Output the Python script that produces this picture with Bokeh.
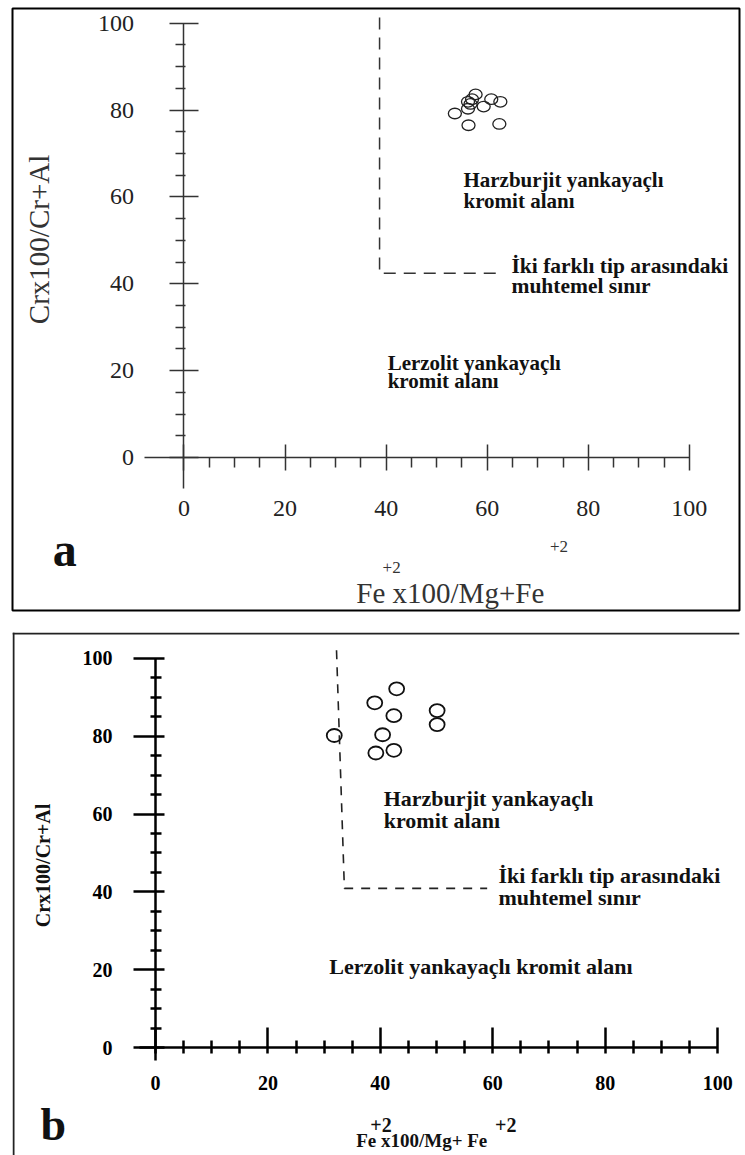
import numpy as np
from bokeh.plotting import figure
from bokeh.layouts import column
from bokeh.models import FixedTicker, Span, Range1d
from bokeh.core.properties import value
from bokeh.embed import file_html
from bokeh.resources import INLINE

SERIF = "Liberation Serif"

# ---------------- data ----------------
major_ticks = [0, 20, 40, 60, 80, 100]
minor_ticks = [5, 10, 15, 25, 30, 35, 45, 50, 55, 65, 70, 75, 85, 90, 95]

# panel a : Fe#  (Fe+2 x100 / Mg+Fe+2)  and Cr# (Cr x100 / Cr+Al)
a_fe = [53.6, 56.3, 62.4, 56.2, 59.3, 56.2, 57.0, 57.7, 60.8, 62.6, 56.7]
a_cr = [79.2, 76.5, 76.8, 80.3, 80.8, 81.9, 82.5, 83.6, 82.5, 81.9, 81.4]
a_bound_fe = [38.7, 38.7, 61.8]
a_bound_cr = [101.3, 42.4, 42.4]

# panel b
b_fe = [42.9, 39.0, 42.4, 50.1, 50.1, 40.4, 39.2, 42.4, 31.8]
b_cr = [92.2, 88.6, 85.3, 86.6, 83.0, 80.4, 75.7, 76.4, 80.2]
b_bound_fe = [32.2, 33.6, 59.0]
b_bound_cr = [102.1, 40.9, 40.9]

y_title = "Crx100/Cr+Al"
x_title_a = "Fe x100/Mg+Fe"
x_title_b = "Fe x100/Mg+ Fe"
sup = "+2"
harz = ["Harzburjit yankayaçlı", "kromit alanı"]
bound = ["İki farklı tip arasındaki", "muhtemel sınır"]
lerz_a = ["Lerzolit yankayaçlı", "kromit alanı"]
lerz_b = "Lerzolit yankayaçlı kromit alanı"


def style_axis(ax, bounds, tin, tout, min_in, min_out, lw, color,
               fsize, fstyle, lcolor, standoff):
    ax.fixed_location = 0
    ax.ticker = FixedTicker(ticks=major_ticks, minor_ticks=minor_ticks)
    ax.bounds = bounds
    ax.axis_line_width = lw
    ax.axis_line_color = color
    ax.major_tick_line_width = lw
    ax.major_tick_line_color = color
    ax.minor_tick_line_width = lw
    ax.minor_tick_line_color = color
    ax.major_tick_in = tin
    ax.major_tick_out = tout
    ax.minor_tick_in = min_in
    ax.minor_tick_out = min_out
    ax.major_label_text_font = SERIF
    ax.major_label_text_font_size = fsize
    ax.major_label_text_font_style = fstyle
    ax.major_label_text_color = lcolor
    ax.major_label_standoff = standoff


def txt(p, x, y, t, size, style="bold", color="#111", align="left",
        baseline="middle", angle=0.0):
    p.text(x=[x], y=[y], text=[t], text_font=value(SERIF),
           text_font_size=size, text_font_style=style, text_color=color,
           text_align=align, text_baseline=baseline, angle=angle)


# ---------------- panel a ----------------
pa = figure(width=741, height=620,
            x_range=Range1d(-33.93, 109.92), y_range=Range1d(-35.23, 103.38),
            output_backend="svg", toolbar_location=None,
            min_border_left=12, min_border_right=2,
            min_border_top=8, min_border_bottom=10)
pa.grid.visible = False
pa.outline_line_color = "black"
pa.outline_line_width = 2
pa.background_fill_color = "white"
pa.border_fill_color = "white"

style_axis(pa.xaxis[0], (-7.9, 100), 13, 13, 0, 10, 1.5, "#333",
           "24px", "normal", "#222", 31)
style_axis(pa.yaxis[0], (-7.1, 100), 15, 14, 2, 8, 1.5, "#333",
           "24px", "normal", "#222", 36)

pa.line(a_bound_fe, a_bound_cr, line_dash="12 8", line_width=1.5,
        line_color="#333")
pa.ellipse(x=a_fe, y=a_cr, width=13, height=10.5, width_units="screen",
           height_units="screen", fill_color=None, line_color="#222",
           line_width=1.3)

txt(pa, 55.3, 64.0, harz[0], "21px")
txt(pa, 55.3, 59.0, harz[1], "21px")
txt(pa, 64.8, 44.0, bound[0], "21.5px")
txt(pa, 64.8, 39.6, bound[1], "21.5px")
txt(pa, 40.3, 21.8, lerz_a[0], "21px")
txt(pa, 40.3, 17.7, lerz_a[1], "21px")

txt(pa, -28.6, 50.2, y_title, "29px", style="normal", color="#333",
    align="center", angle=np.pi / 2)
txt(pa, 34.1, -31.1, x_title_a, "29px", style="normal", color="#333",
    baseline="alphabetic")
txt(pa, 39.3, -25.3, sup, "17px", style="normal", color="#333",
    baseline="alphabetic")
txt(pa, 72.4, -20.5, sup, "17px", style="normal", color="#333",
    baseline="alphabetic")
txt(pa, -23.6, -21.2, "a", "48px", align="center", color="#111")

# ---------------- panel b ----------------
pb = figure(width=741, height=535,
            x_range=Range1d(-25.44, 103.89), y_range=Range1d(-27.76, 106.68),
            output_backend="svg", toolbar_location=None,
            min_border_left=9, min_border_right=0,
            min_border_top=12, min_border_bottom=0)
pb.grid.visible = False
pb.outline_line_color = None
pb.background_fill_color = "white"
pb.border_fill_color = "white"
pb.add_layout(Span(location=106.42, dimension="width", line_color="#222",
                   line_width=2))
pb.add_layout(Span(location=-25.26, dimension="height", line_color="#222",
                   line_width=2))

style_axis(pb.xaxis[0], (-2.8, 100), 20, 6, 7, 6, 2.5, "black",
           "20px", "bold", "black", 22)
style_axis(pb.yaxis[0], (-3.3, 100), 9, 22, 6, 5, 2.5, "black",
           "20px", "bold", "black", 21)

pb.line(b_bound_fe, b_bound_cr, line_dash="9 8", line_width=1.6,
        line_color="#222")
pb.ellipse(x=b_fe, y=b_cr, width=15, height=13, width_units="screen",
           height_units="screen", fill_color=None, line_color="#111",
           line_width=1.8)

txt(pb, 40.6, 64.0, harz[0], "22px")
txt(pb, 40.6, 58.4, harz[1], "22px")
txt(pb, 61.0, 44.2, bound[0], "22px")
txt(pb, 61.0, 38.6, bound[1], "22px")
txt(pb, 30.9, 20.8, lerz_b, "22px")

txt(pb, -20.0, 46.8, y_title, "20px", align="center", angle=np.pi / 2)
txt(pb, 35.7, -23.9, x_title_b, "19px", baseline="alphabetic")
txt(pb, 38.2, -19.8, sup, "20px", baseline="alphabetic")
txt(pb, 60.4, -19.8, sup, "20px", baseline="alphabetic")
txt(pb, -18.2, -19.8, "b", "46px", align="center", color="#111")

layout = column(pa, pb)
open("out.html", "w").write(file_html(layout, INLINE))
